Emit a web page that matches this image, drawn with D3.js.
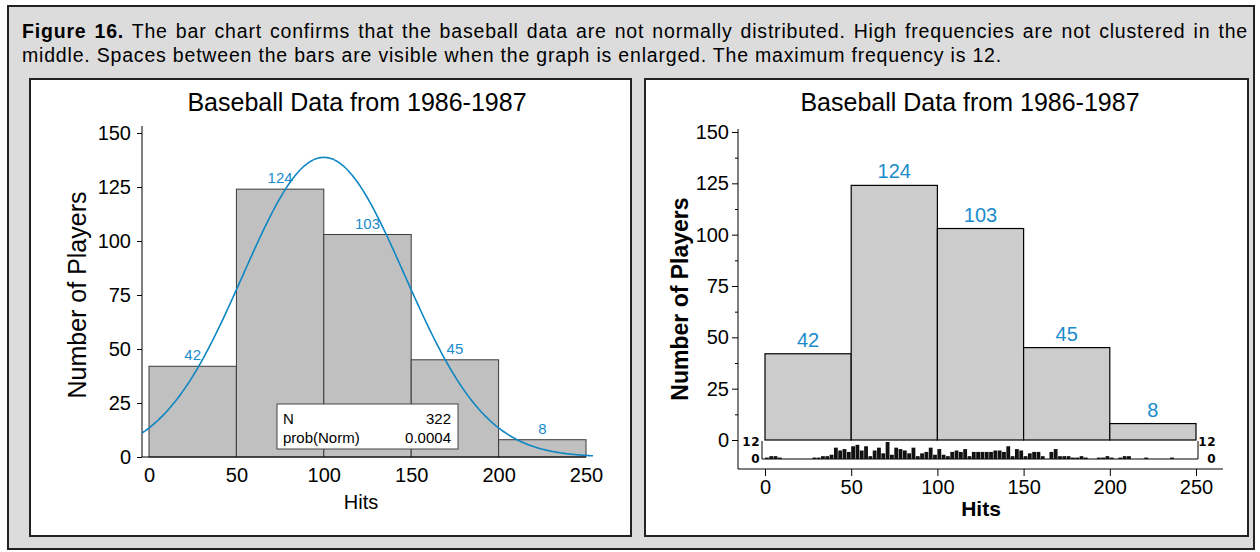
<!DOCTYPE html>
<html>
<head>
<meta charset="utf-8">
<script src="https://cdn.jsdelivr.net/npm/d3@7"></script>
<style>
  body { margin: 0; background: #fff; }
  svg { display: block; font-family: "Liberation Sans", Arial, sans-serif; }
</style>
</head>
<body>
<svg id="fig" width="1260" height="552"></svg>
<script>
// histogram bins (width 50)
const binStarts = [0, 50, 100, 150, 200];
const binCounts = [42, 124, 103, 45, 8];
const xTicks = [0, 50, 100, 150, 200, 250];
const yTicks = [0, 25, 50, 75, 100, 125, 150];
const yMinor = [12.5, 37.5, 62.5, 87.5, 112.5, 137.5];

// fitted normal
const nTotal = 322;
const fitMean = 100;
const fitSd = 46.3;
const probNorm = "0.0004";

// fine frequency strip, bins of 2.5 hits starting at 0
const fineWidth = 2.5;
const fineCounts = [
  1, 2, 2, 1, 0, 0, 0, 0, 0, 0, 0, 1, 1, 2, 2, 3, 8, 6, 7, 5,
  9, 10, 6, 9, 2, 6, 8, 4, 12, 3, 8, 7, 6, 4, 8, 2, 4, 5, 8, 3,
  7, 3, 2, 5, 6, 5, 7, 2, 5, 5, 5, 5, 5, 6, 6, 5, 9, 2, 7, 6,
  2, 4, 5, 5, 2, 0, 5, 7, 2, 2, 2, 1, 1, 2, 1, 0, 0, 1, 1, 2,
  1, 0, 1, 2, 2, 0, 0, 0, 1, 0, 0, 0, 0, 0, 1, 0, 0, 0, 0, 0
];

const blue = "#1a8ccc";
const svg = d3.select("#fig");

// figure frame + panels
svg.append("rect").attr("x", 8).attr("y", 6).attr("width", 1246).attr("height", 543)
  .attr("fill", "#dcdcdc").attr("stroke", "#222").attr("stroke-width", 2);
svg.append("rect").attr("x", 30).attr("y", 79).attr("width", 601).attr("height", 457)
  .attr("fill", "#fff").attr("stroke", "#222").attr("stroke-width", 2);
svg.append("rect").attr("x", 645).attr("y", 79).attr("width", 603).attr("height", 457)
  .attr("fill", "#fff").attr("stroke", "#222").attr("stroke-width", 2);

// caption
const cap1 = svg.append("text").attr("x", 22).attr("y", 38).style("font-size", "19.5px");
cap1.append("tspan").style("font-weight", "bold").text("Figure 16.");
cap1.append("tspan").text(" The bar chart confirms that the baseball data are not normally distributed. High frequencies are not clustered in the");
const cap2 = svg.append("text").attr("x", 22).attr("y", 62).style("font-size", "19.5px")
  .text("middle. Spaces between the bars are visible when the graph is enlarged. The maximum frequency is 12.");
// widen glyph spacing so line 2 ends where the original does, then justify line 1
const n2 = cap2.text().length;
const ls = Math.max(0, (980 - cap2.node().getComputedTextLength()) / n2);
cap1.style("letter-spacing", ls + "px");
cap2.style("letter-spacing", ls + "px");
const natural = cap1.node().getComputedTextLength();
const gaps = cap1.text().split(" ").length - 1;
const extra = (1226 - natural) / gaps;
if (extra > 0) cap1.style("word-spacing", extra + "px");

// ---------- left chart ----------
const xL = d3.scaleLinear().domain([0, 250]).range([149, 586]);
const yL = d3.scaleLinear().domain([0, 150]).range([457, 133]);
const gL = svg.append("g");

gL.append("text").attr("x", 357).attr("y", 111).attr("text-anchor", "middle")
  .style("font-size", "25px").text("Baseball Data from 1986-1987");

gL.selectAll("rect.bar").data(binCounts).join("rect")
  .attr("class", "bar")
  .attr("x", (d, i) => xL(binStarts[i]))
  .attr("y", d => yL(d))
  .attr("width", xL(50) - xL(0))
  .attr("height", d => yL(0) - yL(d))
  .attr("fill", "#c0c0c0").attr("stroke", "#3a3a3a").attr("stroke-width", 1);

gL.selectAll("text.lab").data(binCounts).join("text")
  .attr("class", "lab")
  .attr("x", (d, i) => xL(binStarts[i] + 25))
  .attr("y", d => yL(d) - 6)
  .attr("text-anchor", "middle")
  .style("font-size", "15px").style("fill", blue)
  .text(d => d);

// y axis
const axL = gL.append("g").attr("transform", "translate(142,0)")
  .call(d3.axisLeft(yL).tickValues(yTicks).tickSize(5).tickPadding(6));
axL.select(".domain").attr("d", `M0,${yL(150) - 7}V${yL(0)}`);
axL.selectAll("text").style("font-size", "20px").style("font-family", "inherit");
gL.append("line").attr("x1", 142).attr("x2", xL(250)).attr("y1", yL(0)).attr("y2", yL(0))
  .attr("stroke", "#000");

// x axis labels (no ticks)
const axLx = gL.append("g").attr("transform", `translate(0,${yL(0)})`)
  .call(d3.axisBottom(xL).tickValues(xTicks).tickSize(0).tickPadding(11));
axLx.select(".domain").remove();
axLx.selectAll("text").style("font-size", "20px").style("font-family", "inherit");

gL.append("text").attr("x", 361).attr("y", 509).attr("text-anchor", "middle")
  .style("font-size", "20px").text("Hits");
gL.append("text").attr("transform", "translate(86,295) rotate(-90)").attr("text-anchor", "middle")
  .style("font-size", "25px").text("Number of Players");

// normal curve
const dens = h => nTotal * 50 / (fitSd * Math.sqrt(2 * Math.PI)) *
  Math.exp(-((h - fitMean) ** 2) / (2 * fitSd * fitSd));
const hs = d3.range(xL.invert(142), xL.invert(593), 1);
gL.append("path")
  .attr("d", d3.line().x(h => xL(h)).y(h => yL(dens(h))).curve(d3.curveBasis)(hs))
  .attr("fill", "none").attr("stroke", "#0e86c2").attr("stroke-width", 1.6);

// stats box
const box = gL.append("g");
box.append("rect").attr("x", 277).attr("y", 404).attr("width", 181).attr("height", 45)
  .attr("fill", "#fff").attr("stroke", "#444");
box.append("text").attr("x", 283).attr("y", 424).style("font-size", "15px").text("N");
box.append("text").attr("x", 451).attr("y", 424).attr("text-anchor", "end").style("font-size", "15px").text(nTotal);
box.append("text").attr("x", 283).attr("y", 443).style("font-size", "15px").text("prob(Norm)");
box.append("text").attr("x", 451).attr("y", 443).attr("text-anchor", "end").style("font-size", "15px").text(probNorm);

// ---------- right chart ----------
const xR = d3.scaleLinear().domain([0, 250]).range([765, 1196]);
const yR = d3.scaleLinear().domain([0, 150]).range([440, 132]);
const gR = svg.append("g");

gR.append("text").attr("x", 970).attr("y", 111).attr("text-anchor", "middle")
  .style("font-size", "25px").text("Baseball Data from 1986-1987");

gR.selectAll("rect.bar").data(binCounts).join("rect")
  .attr("class", "bar")
  .attr("x", (d, i) => xR(binStarts[i]))
  .attr("y", d => yR(d))
  .attr("width", xR(50) - xR(0))
  .attr("height", d => yR(0) - yR(d))
  .attr("fill", "#cccccc").attr("stroke", "#000").attr("stroke-width", 1.2);

gR.selectAll("text.lab").data(binCounts).join("text")
  .attr("class", "lab")
  .attr("x", (d, i) => xR(binStarts[i] + 25))
  .attr("y", d => yR(d) - 7)
  .attr("text-anchor", "middle")
  .style("font-size", "20px").style("fill", blue)
  .text(d => d);

// y axis with minor ticks
const axisY = 738, axisX = 469;
const axR = gR.append("g").attr("transform", `translate(${axisY},0)`)
  .call(d3.axisLeft(yR).tickValues(yTicks).tickSize(6).tickPadding(3));
axR.select(".domain").remove();
axR.selectAll("text").style("font-size", "20px").style("font-family", "inherit");
gR.append("g").attr("transform", `translate(${axisY},0)`)
  .call(d3.axisLeft(yR).tickValues(yMinor).tickSize(3).tickFormat(""))
  .select(".domain").remove();
gR.append("path").attr("d", `M${axisY},${yR(150) - 3}V${axisX}H1223`)
  .attr("fill", "none").attr("stroke", "#000");

const axRx = gR.append("g").attr("transform", `translate(0,${axisX})`)
  .call(d3.axisBottom(xR).tickValues(xTicks).tickSize(7).tickPadding(4));
axRx.select(".domain").remove();
axRx.selectAll("text").style("font-size", "20px").style("font-family", "inherit");

gR.append("text").attr("x", 981).attr("y", 516).attr("text-anchor", "middle")
  .style("font-size", "21px").style("font-weight", "bold").text("Hits");
gR.append("text").attr("transform", "translate(688,299) rotate(-90)").attr("text-anchor", "middle")
  .style("font-size", "23px").style("font-weight", "bold").text("Number of Players");

// fine frequency strip
const yS = d3.scaleLinear().domain([0, 12]).range([459, 442]);
gR.append("path").attr("d", `M762,${yS(12) - 1}V${yS(0)}H1198V${yS(12) - 1}`)
  .attr("fill", "none").attr("stroke", "#000");
gR.selectAll("rect.fine").data(fineCounts).join("rect")
  .attr("class", "fine")
  .attr("x", (d, i) => xR(i * fineWidth))
  .attr("width", xR(fineWidth) - xR(0) - 0.5)
  .attr("y", d => yS(d))
  .attr("height", d => yS(0) - yS(d))
  .attr("fill", "#111");
[["12", yS(12) + 4], ["0", yS(0) + 4]].forEach(([t, y]) => {
  [760, 1216].forEach(x => {
    gR.append("text").attr("x", x).attr("y", y).attr("text-anchor", "end")
      .style("font-family", "'DejaVu Sans', sans-serif").style("font-size", "12px")
      .style("font-weight", "bold").style("letter-spacing", "0.5px")
      .text(t);
  });
});
</script>
</body>
</html>
